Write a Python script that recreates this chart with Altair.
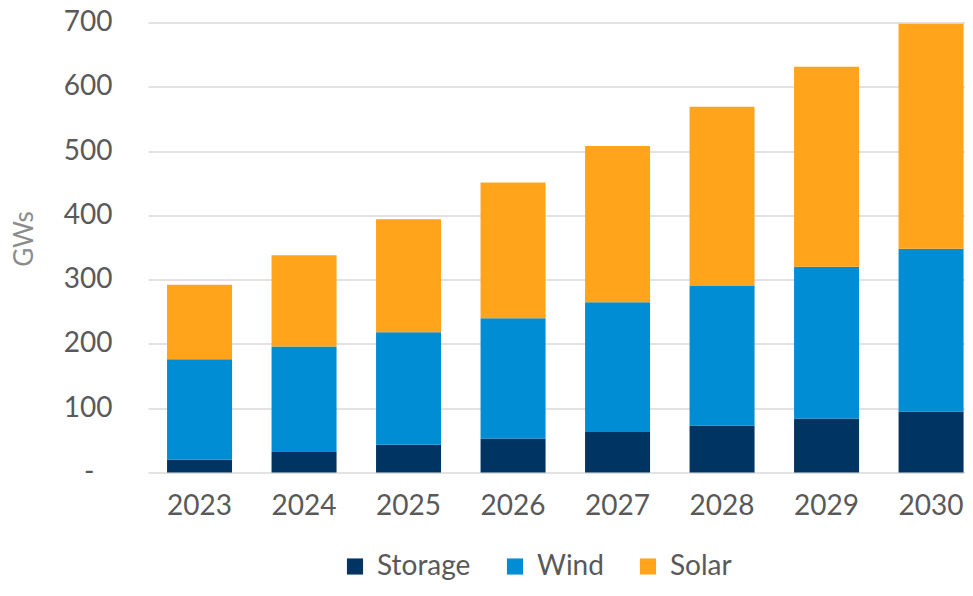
import altair as alt
import pandas as pd

years = ["2023", "2024", "2025", "2026", "2027", "2028", "2029", "2030"]
storage = [20, 32, 43, 53, 63, 73, 84, 95]
wind = [156, 164, 175, 187, 202, 217, 236, 253]
solar = [116, 142, 176, 211, 243, 279, 311, 350]
series = ["Storage", "Wind", "Solar"]
colors = ["#003462", "#008DD3", "#FFA41B"]

rows = []
for i, y in enumerate(years):
    for k, (name, vals) in enumerate(zip(series, [storage, wind, solar])):
        rows.append({"year": y, "type": name, "value": vals[i], "ord": k})
df = pd.DataFrame(rows)

FONT = "Lato"

chart = alt.Chart(df).mark_bar().encode(
    x=alt.X("year:N", sort=years,
            scale=alt.Scale(paddingInner=0.378, paddingOuter=0.098, align=0.93),
            axis=alt.Axis(title=None, labelAngle=0, labelFontSize=28, labelColor="#595959",
                          labelFont=FONT, ticks=False, domain=False, labelPadding=20,
                          grid=False)),
    y=alt.Y("value:Q", stack="zero",
            scale=alt.Scale(domain=[0, 700], nice=False),
            axis=alt.Axis(title="GWs", values=[0, 100, 200, 300, 400, 500, 600, 700],
                          labelExpr="datum.value == 0 ? '-' : datum.label",
                          labelFontSize=28, labelColor="#595959", labelFont=FONT,
                          ticks=False, domain=False,
                          labelPadding={"condition": {"test": "datum.value === 0", "value": 54},
                                        "value": 36},
                          gridColor="#D9D9D9", gridWidth=1.5,
                          titleFont=FONT, titleFontSize=26, titleColor="#8C8C8C",
                          titleFontWeight="normal", titleX=-124, titleY=216,
                          titleAngle=-90, titleBaseline="middle", titleAlign="center")),
    color=alt.Color("type:N", sort=series,
                    scale=alt.Scale(domain=series, range=colors),
                    legend=alt.Legend(title=None, orient="none", direction="horizontal",
                                      legendX=193, legendY=530, symbolType="square",
                                      symbolSize=260, symbolStrokeWidth=0,
                                      labelFontSize=28, labelFont=FONT, labelColor="#595959",
                                      columnPadding=30, labelOffset=8, padding=0)),
    order=alt.Order("ord:Q"),
).properties(
    width=817, height=450,
    autosize=alt.AutoSizeParams(type="none"),
    padding={"left": 140, "top": 14.5, "right": 0, "bottom": 108},
).configure_view(stroke=None)

chart.save("out.html", embed_options={"renderer": "svg", "actions": False})
